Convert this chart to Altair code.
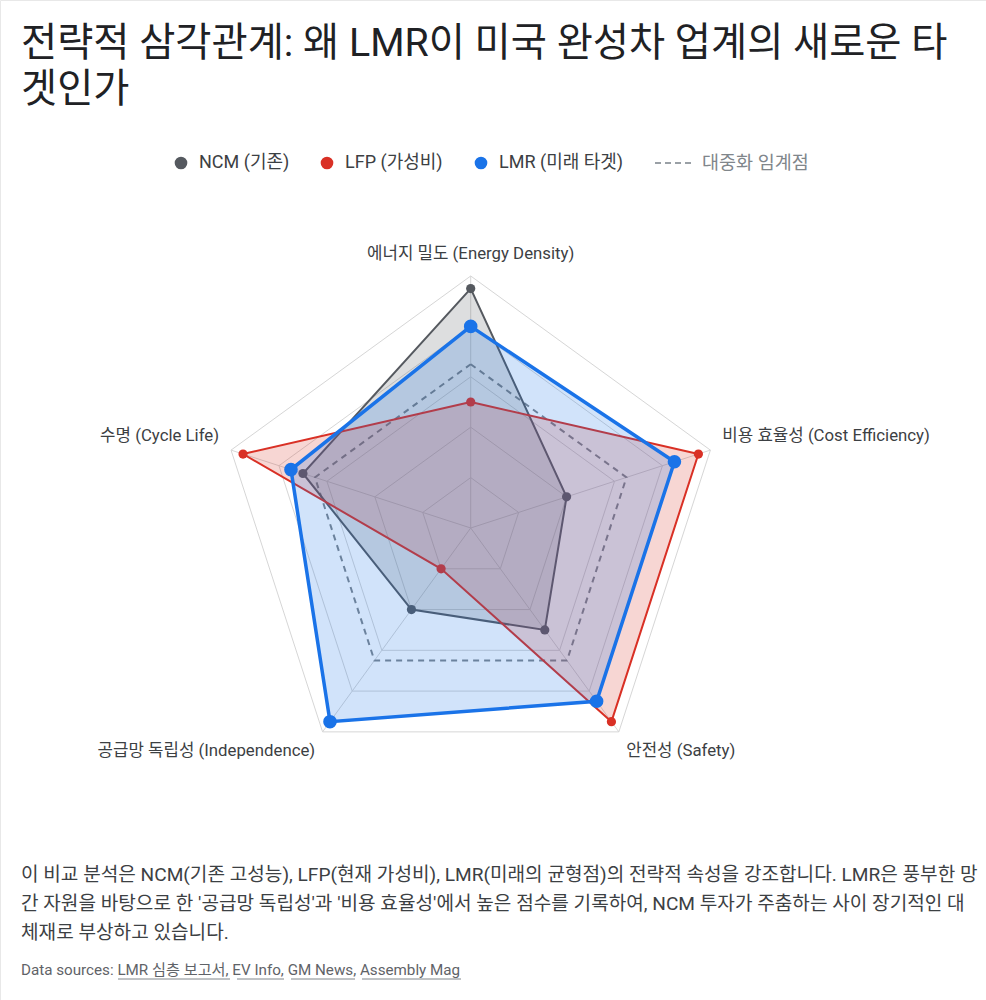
import altair as alt
import pandas as pd

# ---------------- data ----------------
axis_labels = [
    "에너지 밀도 (Energy Density)",
    "비용 효율성 (Cost Efficiency)",
    "안전성 (Safety)",
    "공급망 독립성 (Independence)",
    "수명 (Cycle Life)",
]
series_names = ["NCM (기존)", "LFP (가성비)", "LMR (미래 타겟)"]
ncm_values = [95, 40, 50, 40, 70]
lfp_values = [50, 95, 95, 20, 95]
lmr_values = [80, 85, 85, 95, 75]
threshold_name = "대중화 임계점"
threshold_values = [65, 65, 65, 65, 65]
grid_levels = [20, 40, 60, 80, 100]

title_lines = ["전략적 삼각관계: 왜 LMR이 미국 완성차 업계의 새로운 타", "겟인가"]
note_lines = [
    "이 비교 분석은 NCM(기존 고성능), LFP(현재 가성비), LMR(미래의 균형점)의 전략적 속성을 강조합니다. LMR은 풍부한 망",
    "간 자원을 바탕으로 한 '공급망 독립성'과 '비용 효율성'에서 높은 점수를 기록하여, NCM 투자가 주춤하는 사이 장기적인 대",
    "체재로 부상하고 있습니다.",
]
source_prefix = "Data sources: "
source_links = ["LMR 심층 보고서", "EV Info", "GM News", "Assembly Mag"]

FONT = "Roboto, 'Noto Sans CJK KR', sans-serif"
N = len(axis_labels)


def polygon(name, values):
    rows = []
    for i in range(N + 1):
        k = i % N
        rows.append({"series": name, "idx": k, "order": i, "value": values[k]})
    return pd.DataFrame(rows)


grid_df = pd.concat([polygon(str(l), [l] * N) for l in grid_levels], ignore_index=True)
spoke_df = pd.DataFrame({"idx": list(range(N)), "value": [grid_levels[-1]] * N})
label_df = pd.DataFrame({"idx": list(range(N)), "label": axis_labels, "value": [105] * N})

xs = alt.Scale(domain=[-186.79, 204.48], nice=False, zero=False)
ys = alt.Scale(domain=[-187.3, 209.52], nice=False, zero=False)


def to_xy(ch):
    return ch.transform_calculate(theta="PI/2 - datum.idx*2*PI/5").transform_calculate(
        px="datum.value*cos(datum.theta)", py="datum.value*sin(datum.theta)"
    )


X = alt.X("px:Q", scale=xs, axis=None)
Y = alt.Y("py:Q", scale=ys, axis=None)

grid = to_xy(alt.Chart(grid_df)).mark_line(stroke="#d6d6d6", strokeWidth=1).encode(
    x=X, y=Y, detail="series:N", order="order:Q"
)
spokes = (
    to_xy(alt.Chart(spoke_df))
    .transform_calculate(zx="0", zy="0")
    .mark_rule(stroke="#d6d6d6", strokeWidth=1)
    .encode(x=alt.X("zx:Q", scale=xs, axis=None), y=alt.Y("zy:Q", scale=ys, axis=None), x2="px:Q", y2="py:Q")
)
threshold = to_xy(alt.Chart(polygon(threshold_name, threshold_values))).mark_line(
    stroke="#80868b", strokeWidth=2, strokeDash=[6, 5]
).encode(x=X, y=Y, order="order:Q")


def series_layer(name, values, color, width, size):
    base = to_xy(alt.Chart(polygon(name, values)))
    line = base.mark_line(
        stroke=color, strokeWidth=width, fill=color, fillOpacity=0.2, strokeJoin="miter"
    ).encode(x=X, y=Y, order="order:Q")
    pts = base.transform_filter("datum.order < 5").mark_circle(
        size=size, color=color, opacity=1
    ).encode(x=X, y=Y)
    return line + pts


ncm = series_layer(series_names[0], ncm_values, "#55595f", 2, 85)
lfp = series_layer(series_names[1], lfp_values, "#d93025", 2, 85)
lmr = series_layer(series_names[2], lmr_values, "#1a73e8", 3.5, 185)

label_base = to_xy(alt.Chart(label_df))
lab_style = dict(font=FONT, fontSize=16.8, color="#3c4043", baseline="middle")
labels = alt.layer(
    label_base.transform_filter("datum.idx == 0").mark_text(align="center", dy=-9, **lab_style).encode(x=X, y=Y, text="label:N"),
    label_base.transform_filter("datum.idx == 1").mark_text(align="left", dy=-10, **lab_style).encode(x=X, y=Y, text="label:N"),
    label_base.transform_filter("datum.idx == 2").mark_text(align="left", dy=9, **lab_style).encode(x=X, y=Y, text="label:N"),
    label_base.transform_filter("datum.idx == 3").mark_text(align="right", dy=9, **lab_style).encode(x=X, y=Y, text="label:N"),
    label_base.transform_filter("datum.idx == 4").mark_text(align="right", dy=-10, **lab_style).encode(x=X, y=Y, text="label:N"),
)

one = pd.DataFrame({"a": [0]})


def txt(s, x, y, size, color, align="left"):
    return alt.Chart(one).mark_text(
        text=s, font=FONT, fontSize=size, color=color, align=align, baseline="middle"
    ).encode(x=alt.value(x), y=alt.value(y))


# title
title = alt.layer(
    txt(title_lines[0], 21, 44, 39.3, "#202124"),
    txt(title_lines[1], 21, 90, 39.3, "#202124"),
)

# legend
legend_colors = ["#55595f", "#d93025", "#1a73e8"]
legend_x = [181, 327, 481]
legend_layers = []
for name, c, lx in zip(series_names, legend_colors, legend_x):
    legend_layers.append(
        alt.Chart(one).mark_circle(size=160, color=c, opacity=1).encode(x=alt.value(lx), y=alt.value(163))
    )
    legend_layers.append(txt(name, lx + 18, 163, 18, "#3c4043"))
legend_layers.append(
    alt.Chart(one).mark_rule(stroke="#9aa0a6", strokeWidth=2, strokeDash=[6, 4]).encode(
        x=alt.value(655), x2=alt.value(693), y=alt.value(163)
    )
)
legend_layers.append(txt(threshold_name, 702, 163, 18.5, "#80868b"))
legend = alt.layer(*legend_layers)

# footer
notes = alt.layer(*[txt(s, 21, 875 + 29 * i, 19.1, "#3c4043") for i, s in enumerate(note_lines)])
src = txt(source_prefix + ", ".join(source_links), 21, 970, 15.2, "#5f6368")
underline_spans = [(118, 230), (237, 284), (291, 355), (362, 461)]
underlines = alt.layer(*[
    alt.Chart(one).mark_rule(stroke="#80868b", strokeWidth=1).encode(
        x=alt.value(a), x2=alt.value(b), y=alt.value(979)
    )
    for a, b in underline_spans
])

chart = alt.layer(
    grid, spokes, threshold, ncm, lfp, lmr, labels, title, legend, notes, src, underlines
).properties(
    width=986, height=1000, padding=0, autosize=alt.AutoSizeParams(type="none"), background="white"
).configure_view(stroke="#e8e8e8", strokeWidth=1)

chart.save("out.html", embed_options={"renderer": "svg", "actions": False})
